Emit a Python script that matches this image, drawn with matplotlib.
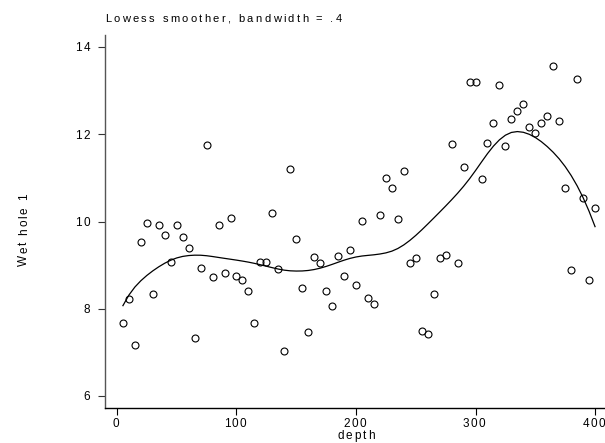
import numpy as np
import matplotlib
matplotlib.use("Agg")
import matplotlib.pyplot as plt
from matplotlib.font_manager import FontProperties, findfont
from matplotlib.ft2font import FT2Font
from matplotlib.transforms import offset_copy, blended_transform_factory

plt.rcParams["font.family"] = ["Liberation Sans", "DejaVu Sans"]

# Sample depths and measured values for wet hole 1
depth = [5, 10, 15, 20, 25, 30, 35, 40, 45, 50,
         55, 60, 65, 70, 75, 80, 85, 90, 95, 100,
         105, 110, 115, 120, 125, 130, 135, 140, 145, 150,
         155, 160, 165, 170, 175, 180, 185, 190, 195, 200,
         205, 210, 215, 220, 225, 230, 235, 240, 245, 250,
         255, 260, 265, 270, 275, 280, 285, 290, 295, 300,
         305, 310, 315, 320, 325, 330, 335, 340, 345, 350,
         355, 360, 365, 370, 375, 380, 385, 390, 395, 400]
wet_hole_1 = [7.67, 8.21, 7.17, 9.52, 9.96, 8.33, 9.91, 9.69, 9.06, 9.93,
              9.64, 9.39, 7.32, 8.93, 11.75, 8.72, 9.91, 8.81, 10.08, 8.74,
              8.65, 8.40, 7.66, 9.06, 9.06, 10.19, 8.91, 7.02, 11.21, 9.59,
              8.47, 7.46, 9.19, 9.05, 8.40, 8.07, 9.20, 8.76, 9.34, 8.55,
              10.02, 8.24, 8.11, 10.16, 11.00, 10.76, 10.05, 11.16, 9.05, 9.17,
              7.49, 7.42, 8.34, 9.17, 9.22, 11.78, 9.05, 11.25, 13.21, 13.21,
              10.97, 11.80, 12.27, 13.14, 11.73, 12.36, 12.54, 12.69, 12.17, 12.03,
              12.27, 12.41, 13.57, 12.31, 10.76, 8.89, 13.27, 10.54, 8.66, 10.31]
bandwidth = 0.4

x_ticks = [0, 100, 200, 300, 400]
y_ticks = [6, 8, 10, 12, 14]

TITLE_FONT = FontProperties(family="Liberation Sans", size=8)
AXIS_FONT = FontProperties(family="Liberation Sans", size=8.5)


def running_line_lowess(x, y, bw):
    """Tricube-weighted running-line smoother over a symmetric index window."""
    x = np.asarray(x, float)
    y = np.asarray(y, float)
    order = np.argsort(x)
    x, y = x[order], y[order]
    n = len(x)
    k = int(np.floor((n * bw - 0.5) / 2))
    fit = np.empty(n)
    for i in range(n):
        lo = max(0, i - k)
        hi = min(n - 1, i + k)
        xs = x[lo:hi + 1]
        ys = y[lo:hi + 1]
        delta = 1.0001 * max(x[hi] - x[i], x[i] - x[lo])
        w = (1 - (np.abs(xs - x[i]) / delta) ** 3) ** 3
        sw = w.sum()
        xm = (w * xs).sum() / sw
        ym = (w * ys).sum() / sw
        sxx = (w * (xs - xm) ** 2).sum()
        slope = (w * (xs - xm) * (ys - ym)).sum() / sxx if sxx > 0 else 0.0
        fit[i] = ym + slope * (x[i] - xm)
    return x, fit


_faces = {}


def advance(ch, fp):
    key = (fp.get_file() or findfont(fp), fp.get_size_in_points())
    if key not in _faces:
        face = FT2Font(findfont(fp))
        face.set_size(fp.get_size_in_points(), 72)
        _faces[key] = face
    return _faces[key].load_char(ord(ch)).linearHoriAdvance / 65536.0


def spaced_text(fig, x, y, s, transform, fp, tracking, ha="left",
                dx=0.0, dy=0.0, rotation=0, color="black"):
    """Draw text letter by letter with extra tracking between glyphs."""
    advs = [advance(c, fp) for c in s]
    total = sum(advs) + tracking * (len(s) - 1)
    pos = {"left": 0.0, "center": -total / 2, "right": -total}[ha]
    for c, a in zip(s, advs):
        if c != " ":
            if rotation == 0:
                ox, oy = pos + dx, dy
            else:
                ox, oy = dx, pos + dy
            tr = offset_copy(transform, fig=fig, x=ox, y=oy, units="points")
            fig.text(x, y, c, transform=tr, fontproperties=fp, ha="left",
                     va="baseline", rotation=rotation, rotation_mode="anchor",
                     color=color)
        pos += a + tracking


xs, smooth = running_line_lowess(depth, wet_hole_1, bandwidth)

fig = plt.figure(figsize=(6.05, 4.43), dpi=100)
ax = fig.add_axes([105 / 605, 35 / 443, 502 / 605, 373 / 443])

ax.plot(depth, wet_hole_1, linestyle="none", marker="o", markersize=5,
        markerfacecolor="none", markeredgecolor="black", markeredgewidth=0.8)
ax.plot(xs, smooth, color="black", linewidth=0.9)

ax.set_xlim(-10, 410)
ax.set_ylim(5.72, 14.28)
ax.set_xticks(x_ticks)
ax.set_yticks(y_ticks)

for side in ("top", "right"):
    ax.spines[side].set_visible(False)
ax.spines["left"].set_color("#555555")
ax.spines["left"].set_linewidth(1.0)
ax.spines["bottom"].set_color("black")
ax.spines["bottom"].set_linewidth(1.0)

ax.tick_params(axis="both", direction="out", length=5, width=0.8,
               labelleft=False, labelbottom=False)
ax.tick_params(axis="y", colors="#333333")

px = 72 / 100  # points per pixel

# tick labels
ytr = blended_transform_factory(ax.transAxes, ax.transData)
for t in y_ticks:
    spaced_text(fig, 0, t, str(t), ytr, AXIS_FONT, 1.0, ha="right",
                dx=-15 * px, dy=-3.0)
xtr = blended_transform_factory(ax.transData, ax.transAxes)
for t in x_ticks:
    spaced_text(fig, t, 0, str(t), xtr, AXIS_FONT, 1.0, ha="center",
                dx=-1.5 * px, dy=-19 * px)

# axis titles and caption
spaced_text(fig, 200, 0, "depth", xtr, AXIS_FONT, 1.3, ha="center",
            dy=-31 * px)
spaced_text(fig, 27 / 605, 1 - 230 / 443, "Wet hole 1", fig.transFigure,
            AXIS_FONT, 1.3, ha="center", rotation=90)
spaced_text(fig, 105 / 605, 1 - 22 / 443, "Lowess smoother, bandwidth = .4",
            fig.transFigure, TITLE_FONT, 1.7, ha="left")

fig.savefig("out.png", dpi=100)
